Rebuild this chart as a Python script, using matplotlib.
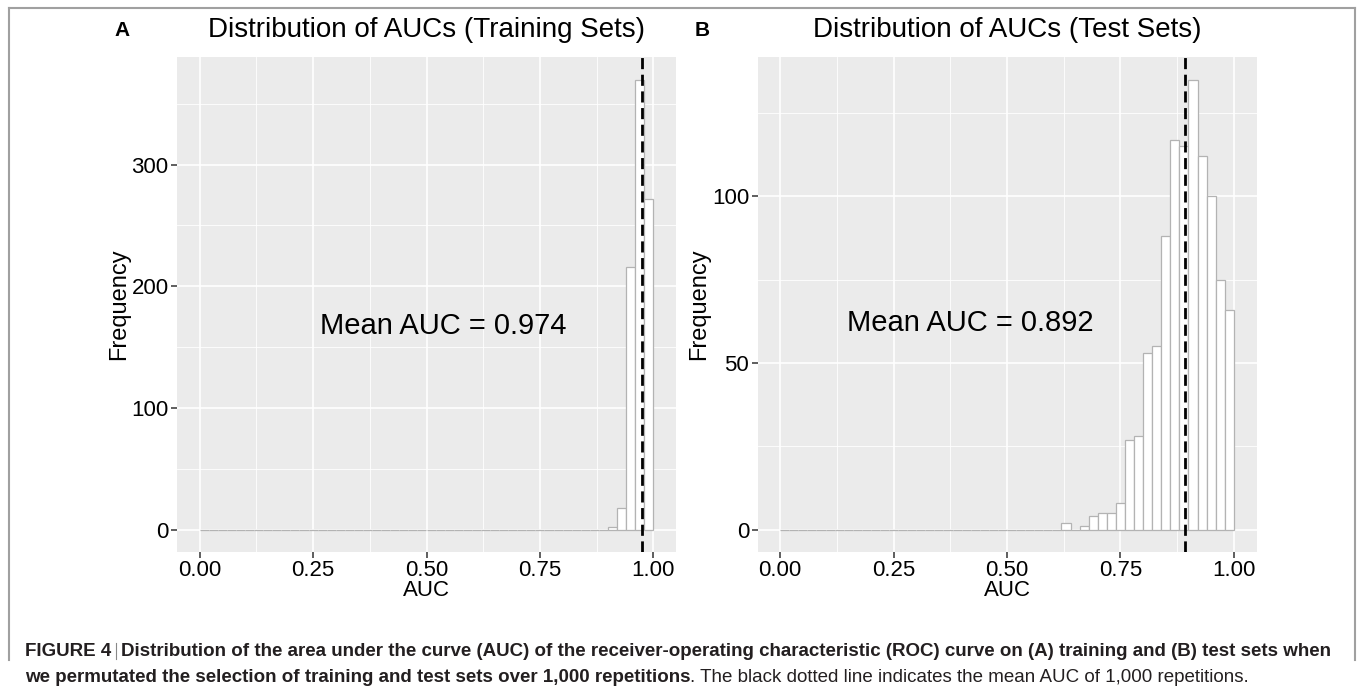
"""Histograms of AUCs over 1,000 repetitions (training vs test sets)."""

import matplotlib
matplotlib.use("Agg")
import matplotlib.pyplot as plt
import numpy as np
from matplotlib.lines import Line2D
from matplotlib.ticker import MultipleLocator

# ---- data ------------------------------------------------------------------
bin_width = 0.02
n_bins = 50

train_first_bin = 0.90
train_counts = [2, 18, 216, 370, 272]
train_mean = 0.974

test_first_bin = 0.62
test_counts = [2, 0, 1, 4, 5, 5, 8, 27, 28, 53, 55, 88, 117, 115, 135, 112, 100, 75, 66]
test_mean = 0.892

panel_titles = ["Distribution of AUCs (Training Sets)", "Distribution of AUCs (Test Sets)"]
panel_letters = ["A", "B"]
x_ticks = [0.0, 0.25, 0.50, 0.75, 1.00]
x_tick_labels = ["0.00", "0.25", "0.50", "0.75", "1.00"]

caption_head = "FIGURE 4"
caption_bold_1 = ("Distribution of the area under the curve (AUC) of the receiver-operating "
                  "characteristic (ROC) curve on (A) training and (B) test sets when")
caption_bold_2 = "we permutated the selection of training and test sets over 1,000 repetitions"
caption_regular_2 = ". The black dotted line indicates the mean AUC of 1,000 repetitions."

plt.rcParams["font.family"] = ["Liberation Sans", "DejaVu Sans"]

W, H = 1358, 691
fig = plt.figure(figsize=(W / 100, H / 100), dpi=100)
fig.patch.set_facecolor("white")


def full_counts(first_bin, counts):
    out = np.zeros(n_bins)
    start = int(round(first_bin / bin_width))
    out[start:start + len(counts)] = counts
    return out


def fx(px):
    return px / W


def fy(py):
    return 1 - py / H


edges = np.arange(n_bins) * bin_width
panels = [
    dict(counts=full_counts(train_first_bin, train_counts), mean=train_mean,
         left=177, y_major=100, y_minor=50, text_xy=(0.537, 167)),
    dict(counts=full_counts(test_first_bin, test_counts), mean=test_mean,
         left=757.5, y_major=50, y_minor=25, text_xy=(0.42, 62)),
]

for i, p in enumerate(panels):
    ax = fig.add_axes([fx(p["left"]), fy(552), 499 / W, (552 - 57) / H])
    ax.set_facecolor("#EBEBEB")
    ax.bar(edges, p["counts"], width=bin_width, align="edge", color="white",
           edgecolor="#b3b3b3", linewidth=0.9, zorder=3)
    ax.axvline(p["mean"], color="black", linestyle=(0, (4, 2)), linewidth=2.0, zorder=4)

    ymax = max(p["counts"])
    ax.set_xlim(-0.05, 1.05)
    ax.set_ylim(-0.05 * ymax, 1.05 * ymax)

    ax.set_xticks(x_ticks)
    ax.set_xticklabels(x_tick_labels)
    ax.xaxis.set_minor_locator(MultipleLocator(0.125))
    ax.yaxis.set_major_locator(MultipleLocator(p["y_major"]))
    ax.yaxis.set_minor_locator(MultipleLocator(p["y_minor"]))
    ax.grid(which="major", color="white", linewidth=1.2, zorder=0)
    ax.grid(which="minor", color="white", linewidth=0.6, zorder=0)
    ax.set_axisbelow(True)
    for s in ax.spines.values():
        s.set_visible(False)
    ax.tick_params(which="major", length=4, width=1.1, color="#333333",
                   labelsize=16, labelcolor="black", pad=2)
    ax.tick_params(which="minor", length=0)

    ax.set_xlabel("AUC", fontsize=16, labelpad=-1)
    ax.set_ylabel("Frequency", fontsize=17, labelpad=1)

    tx, ty = p["text_xy"]
    ax.text(tx, ty, f"Mean AUC = {p['mean']:.3f}", fontsize=21,
            ha="center", va="center", zorder=5)

    cx = p["left"] + 499 / 2
    fig.text(fx(cx), fy(30), panel_titles[i], fontsize=20, ha="center", va="center")
    fig.text(fx(p["left"] - 55), fy(30), panel_letters[i], fontsize=15,
             fontweight="bold", ha="center", va="center")

# ---- frame around the figure -----------------------------------------------
frame_kw = dict(color="#a0a0a0", linewidth=1.5, transform=fig.transFigure)
fig.add_artist(Line2D([fx(9), fx(1355)], [fy(8), fy(8)], **frame_kw))
fig.add_artist(Line2D([fx(9), fx(9)], [fy(8), fy(660)], **frame_kw))
fig.add_artist(Line2D([fx(1355), fx(1355)], [fy(8), fy(660)], **frame_kw))

# ---- caption (size fitted so line 1 spans the frame width) -------------------
cap_color = "#231f20"
renderer = fig.canvas.get_renderer()

probe = fig.text(0, 0, caption_head + " | " + caption_bold_1, fontsize=12,
                 fontweight="bold")
probe_w = probe.get_window_extent(renderer).width
probe.remove()
cap_size = 12 * (1338 - 25) / probe_w


def put(x_px, y_px, s, weight="normal"):
    t = fig.text(fx(x_px), fy(y_px), s, fontsize=cap_size, fontweight=weight,
                 color=cap_color, ha="left", va="center")
    return t.get_window_extent(renderer).x1


x_end = put(25, 651, caption_head, "bold")
bar_x = x_end + 5
fig.add_artist(Line2D([fx(bar_x), fx(bar_x)], [fy(643), fy(659)], color="#888888",
                      linewidth=0.8, transform=fig.transFigure))
put(bar_x + 5, 651, caption_bold_1, "bold")
x_end = put(25, 677, caption_bold_2, "bold")
put(x_end, 677, caption_regular_2)

fig.savefig("out.png", dpi=100)
